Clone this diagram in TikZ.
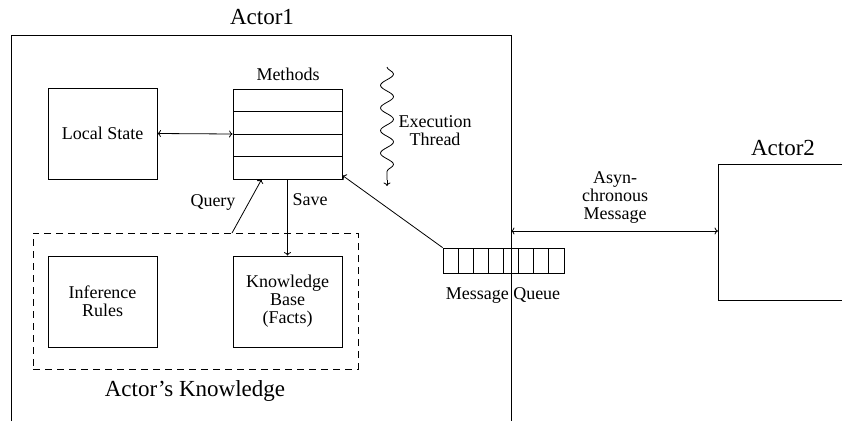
\documentclass[tikz,border=0pt]{standalone}
\usepackage{fontspec}
\setmainfont{Liberation Serif}
\usetikzlibrary{decorations.pathmorphing,arrows.meta}

\begin{document}
\begin{tikzpicture}[x=1pt,y=-1pt, line width=0.8pt,
  tip/.tip={To[length=3.5pt,width=7pt]},
  box/.style={draw, minimum width=109pt, minimum height=91pt, inner sep=0pt,
    align=center, font=\fontsize{18}{18}\selectfont},
  small/.style={font=\fontsize{18}{18}\selectfont, align=center, inner sep=0pt},
  big/.style={font=\fontsize{23}{26}\selectfont, inner sep=0pt},
  arr/.style={-tip},
  biarr/.style={tip-tip},
]
\useasboundingbox (0,0) rectangle (842,421);

% actor outlines (open towards the page edges)
\draw (11,421) -- (11,35) -- (511,35) -- (511,421);
\draw (842,164) -- (718,164) -- (718,300) -- (842,300);
\node[big] (actor1) at (262,17) {Actor1};
\node[big] (actor2) at (783,148) {Actor2};

% inner components
\node[box] (local) at (102.5,133.5) {Local State};
\node[draw, minimum width=109pt, minimum height=90pt, inner sep=0pt] (methods) at (287.5,134) {};
\foreach \yy in {111.5,134,156.5}
  \draw (233,\yy) -- (342,\yy);
\node[small] (methlbl) at (288,74) {Methods};

\node[draw, dashed, dash pattern=on 7pt off 5pt, minimum width=325pt, minimum height=136pt, inner sep=0pt] (know) at (195.5,301) {};
\node[box] (rules) at (102.5,301.5) {Inference\\Rules};
\node[box] (kb) at (287.5,301.5) {Knowledge\\Base\\(Facts)};
\node[big] (knowlbl) at (195,391) {Actor's Knowledge};

% message queue
\node[draw, minimum width=121pt, minimum height=25pt, inner sep=0pt] (queue) at (503.5,260.5) {};
\foreach \i in {1,...,7}
  \draw (443+\i*15.125,248) -- (443+\i*15.125,273);
\node[small] (qlbl) at (503,295) {Message Queue};

% execution thread: wavy part, then a short straight run into the tip
\coordinate (thtop) at (387,67);
\coordinate (thmid) at (387,180);
\coordinate (thbot) at (387,186);
\draw[decorate, decoration={snake, amplitude=6.5pt, segment length=22.6pt}] (thtop) -- (thmid);
\draw[arr] (thmid) -- (thbot);
\node[small] (thlbl) at (435,131) {Execution\\Thread};

% connectors
\draw[biarr] (local.east) -- (methods.west);
\draw[arr] (methods.south) -- (kb.north);
\node[small] (savelbl) at (310,200) {Save};
\coordinate (qstart) at (232,233);
\draw[arr] (qstart) -- ([xshift=29pt]methods.south west);
\node[small] (querylbl) at (213,202) {Query};
\draw[arr] (queue.north west) -- ([yshift=4pt]methods.south east);

\coordinate (a1edge) at (511,231);
\coordinate (a2edge) at (718,231);
\draw[biarr] (a1edge) -- (a2edge);
\node[small] (asynclbl) at (615,197) {Asyn-\\chronous\\Message};
\end{tikzpicture}
\end{document}
